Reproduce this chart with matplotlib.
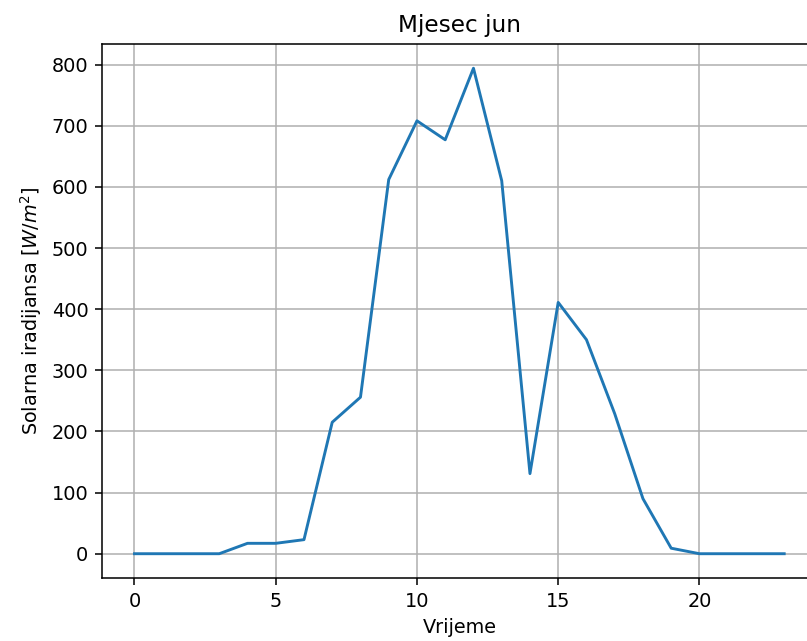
import matplotlib
matplotlib.use("Agg")
import matplotlib.pyplot as plt

# Hourly solar irradiance, June
hours = list(range(24))
irradiance = [0, 0, 0, 0, 17, 17, 23, 215, 256, 612,
              708, 677, 794, 610, 131, 411, 350, 229, 90, 9,
              0, 0, 0, 0]

fig, ax = plt.subplots(figsize=(807 / 139, 641 / 139), dpi=139)
# right edge of the axes runs slightly past the canvas, as in the original crop
fig.subplots_adjust(left=0.1264, right=1.012, top=0.9314, bottom=0.0983)

ax.plot(hours, irradiance)

ax.set_title("Mjesec jun")
ax.set_xlabel("Vrijeme")
ax.set_ylabel("Solarna iradijansa [$W/m^2$]")
ax.grid(True)

fig.savefig("out.png")
